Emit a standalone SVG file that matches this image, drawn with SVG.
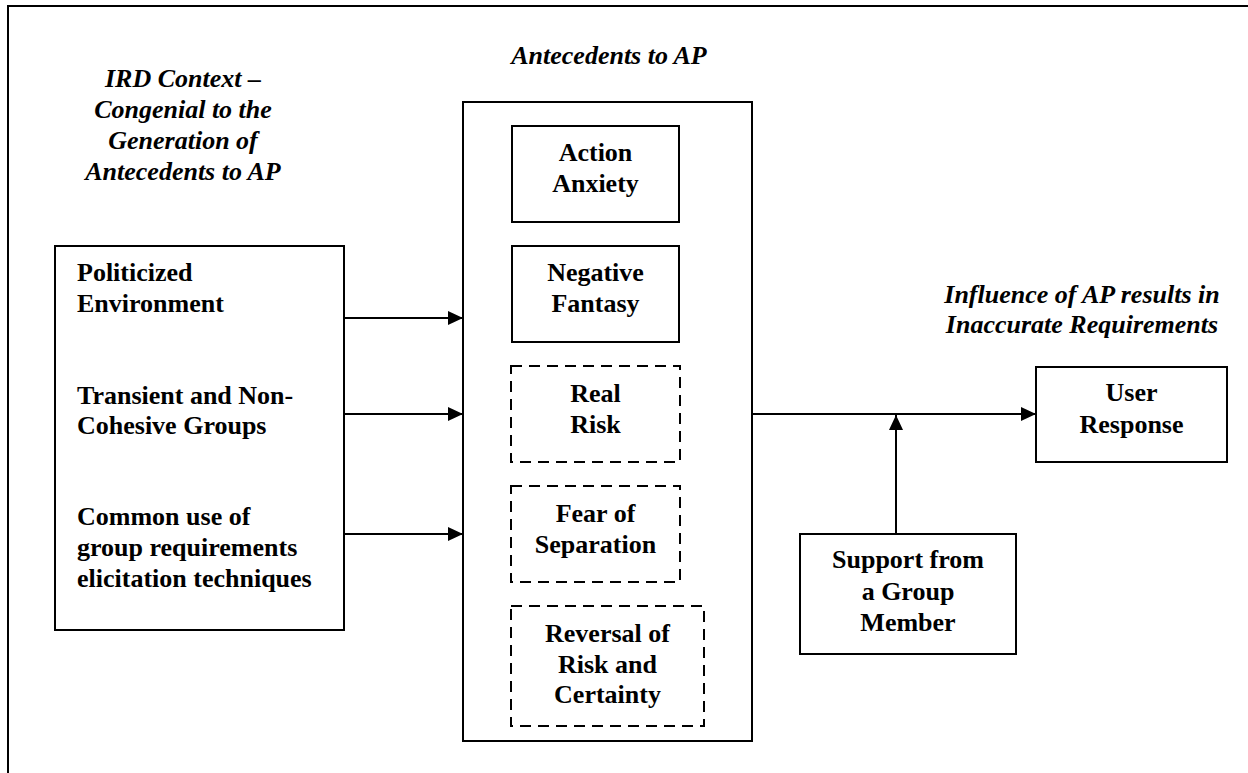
<svg xmlns="http://www.w3.org/2000/svg" width="1248" height="773" viewBox="0 0 1248 773">
<style>
text{font-family:"Liberation Serif","Times New Roman",serif;font-size:26px;font-weight:bold;fill:#000}
.h{font-style:italic}
.c{text-anchor:middle}
.box{fill:#fff;stroke:#000;stroke-width:2}
.dash{fill:#fff;stroke:#000;stroke-width:2;stroke-dasharray:11 7}
.ln{fill:none;stroke:#000;stroke-width:2}
</style>
<defs>
<marker id="ah" markerWidth="16" markerHeight="14" refX="15" refY="7" orient="auto" markerUnits="userSpaceOnUse">
<path d="M0,0 L15,7 L0,14 Z" fill="#000"/>
</marker>
</defs>
<rect width="1248" height="773" fill="#fff"/>
<path class="ln" d="M8,773 V6 H1248" stroke-width="2.5"/>
<g id="header-ird">
<text class="h c" x="183" y="87">IRD Context –</text>
<text class="h c" x="183" y="118">Congenial to the</text>
<text class="h c" x="183" y="149">Generation of</text>
<text class="h c" x="183" y="180">Antecedents to AP</text>
</g>
<g id="header-antecedents"><text class="h c" x="609" y="64">Antecedents to AP</text></g>
<g id="header-influence">
<text class="h c" x="1082" y="303">Influence of AP results in</text>
<text class="h c" x="1082" y="333">Inaccurate Requirements</text>
</g>
<g id="ird-context">
<rect class="box" x="55" y="246" width="289" height="384"/>
<text x="77" y="281">Politicized</text>
<text x="77" y="312">Environment</text>
<text x="77" y="404">Transient and Non-</text>
<text x="77" y="434">Cohesive Groups</text>
<text x="77" y="525">Common use of</text>
<text x="77" y="556">group requirements</text>
<text x="77" y="587">elicitation techniques</text>
</g>
<g id="antecedents">
<rect class="box" x="463" y="102" width="289" height="639"/>
</g>
<g id="action-anxiety">
<rect class="box" x="512" y="126" width="167" height="96"/>
<text class="c" x="595.5" y="161">Action</text>
<text class="c" x="595.5" y="192">Anxiety</text>
</g>
<g id="negative-fantasy">
<rect class="box" x="512" y="246" width="167" height="96"/>
<text class="c" x="595.5" y="281">Negative</text>
<text class="c" x="595.5" y="312">Fantasy</text>
</g>
<g id="real-risk">
<rect class="dash" x="511" y="366" width="169" height="96"/>
<text class="c" x="595.5" y="402">Real</text>
<text class="c" x="595.5" y="433">Risk</text>
</g>
<g id="fear-of-separation">
<rect class="dash" x="511" y="486" width="169" height="96"/>
<text class="c" x="595.5" y="522">Fear of</text>
<text class="c" x="595.5" y="553">Separation</text>
</g>
<g id="reversal">
<rect class="dash" x="511" y="606" width="193" height="120"/>
<text class="c" x="607.5" y="642">Reversal of</text>
<text class="c" x="607.5" y="673">Risk and</text>
<text class="c" x="607.5" y="703">Certainty</text>
</g>
<g id="user-response">
<rect class="box" x="1036" y="367" width="191" height="95"/>
<text class="c" x="1131.5" y="401">User</text>
<text class="c" x="1131.5" y="433">Response</text>
</g>
<g id="support">
<rect class="box" x="800" y="534" width="216" height="120"/>
<text class="c" x="908" y="568">Support from</text>
<text class="c" x="908" y="600">a Group</text>
<text class="c" x="908" y="631">Member</text>
</g>
<g id="connectors">
<line class="ln" x1="344" y1="318" x2="463" y2="318" marker-end="url(#ah)"/>
<line class="ln" x1="344" y1="414" x2="463" y2="414" marker-end="url(#ah)"/>
<line class="ln" x1="344" y1="534" x2="463" y2="534" marker-end="url(#ah)"/>
<line class="ln" x1="752" y1="414" x2="1036" y2="414" marker-end="url(#ah)"/>
<line class="ln" x1="896" y1="534" x2="896" y2="415" marker-end="url(#ah)"/>
</g>
</svg>
